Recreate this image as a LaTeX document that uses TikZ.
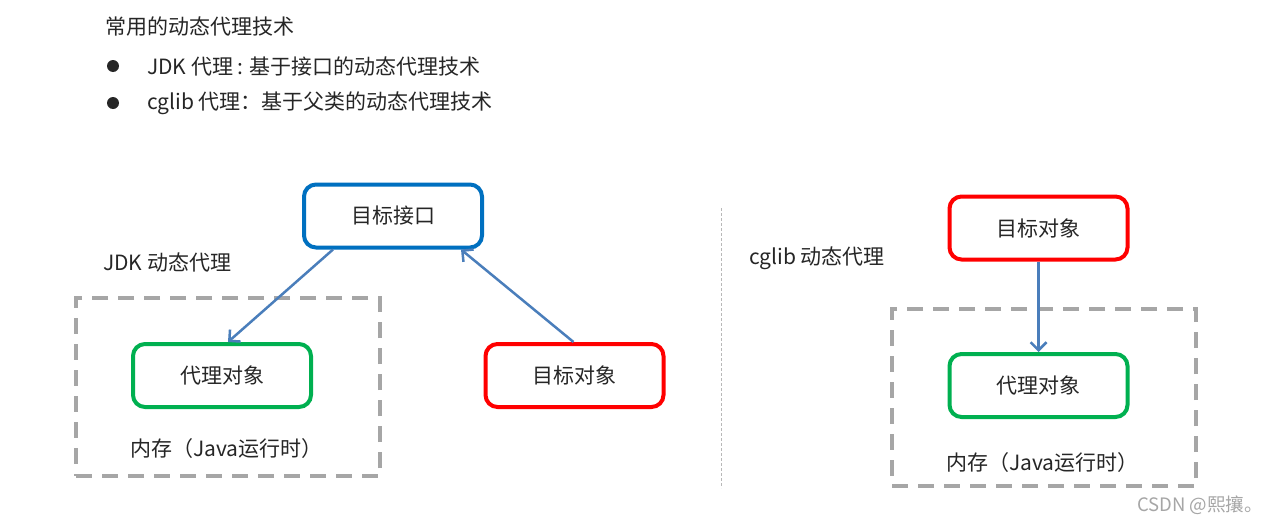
\documentclass[tikz,border=0pt]{standalone}
\usepackage{fontspec}
\setmainfont{Noto Sans CJK SC}
\usetikzlibrary{arrows.meta}
\definecolor{txt}{HTML}{262626}
\definecolor{bblue}{HTML}{0070C0}
\definecolor{bgreen}{HTML}{00B050}
\definecolor{bred}{HTML}{FF0000}
\definecolor{dgray}{HTML}{A6A6A6}
\definecolor{arr}{HTML}{4A7EBB}
\tikzset{
  lbl/.style={anchor=west, inner sep=0pt, text=txt, font=\fontsize{21}{25}\selectfont},
  boxnode/.style={draw, line width=4pt, rounded corners=12pt, minimum width=178pt, minimum height=63pt, inner sep=0pt, text=txt, font=\fontsize{21}{25}\selectfont},
  membox/.style={draw=dgray, line width=4pt, dash pattern=on 16pt off 10pt, inner sep=0pt},
  conn/.style={draw=arr, line width=2.5pt, -{Straight Barb[length=8pt,width=16pt,line width=2.5pt]}},
  bul/.style={circle, fill=txt, minimum size=12pt, inner sep=0pt}
}
\begin{document}
\begin{tikzpicture}[x=1pt,y=-1pt]
\useasboundingbox[fill=white] (0,0) rectangle (1271,525);
% header text
\node[lbl] (title) at (105,27) {常用的动态代理技术};
\node[bul] (b1) at (113,66) {};
\node[lbl] (t1) at (147,66) {JDK 代理 : 基于接口的动态代理技术};
\node[bul] (b2) at (113,103) {};
\node[lbl] (t2) at (147,103) {cglib 代理：基于父类的动态代理技术};
% left diagram
\node[membox, minimum width=304pt, minimum height=178pt] (memL) at (228,387) {};
\node[lbl] (jdk) at (103,262) {JDK 动态代理};
\node[boxnode, draw=bblue] (jk) at (393,216) {目标接口};
\node[boxnode, draw=bgreen] (pl) at (222,375.5) {代理对象};
\node[boxnode, draw=bred] (tm) at (574.5,375.5) {目标对象};
\node[lbl] (memLt) at (130,449) {内存（Java运行时）};
\draw[conn] ([xshift=-60pt]jk.south) -- ([xshift=6pt]pl.north);
\draw[conn] ([xshift=-1pt]tm.north) -- ([xshift=68pt]jk.south);
% divider
\coordinate (d1) at (721,208);
\coordinate (d2) at (721,488);
\draw[dgray!80, line width=1pt, dash pattern=on 3pt off 2pt] (d1) -- (d2);
% right diagram
\node[lbl] (cg) at (749,258) {cglib 动态代理};
\node[membox, minimum width=304pt, minimum height=177pt] (memR) at (1044,397.5) {};
\node[boxnode, draw=bred] (tr) at (1038.5,228) {目标对象};
\node[boxnode, draw=bgreen] (pr) at (1038.5,385.5) {代理对象};
\node[lbl] (memRt) at (946,463) {内存（Java运行时）};
\draw[conn] (tr.south) -- (pr.north);
% watermark
\node[anchor=west, inner sep=0pt, text=black!35, font=\fontsize{18.5}{21}\selectfont] (wm) at (1137,505) {CSDN @熙攘。};
\end{tikzpicture}
\end{document}
